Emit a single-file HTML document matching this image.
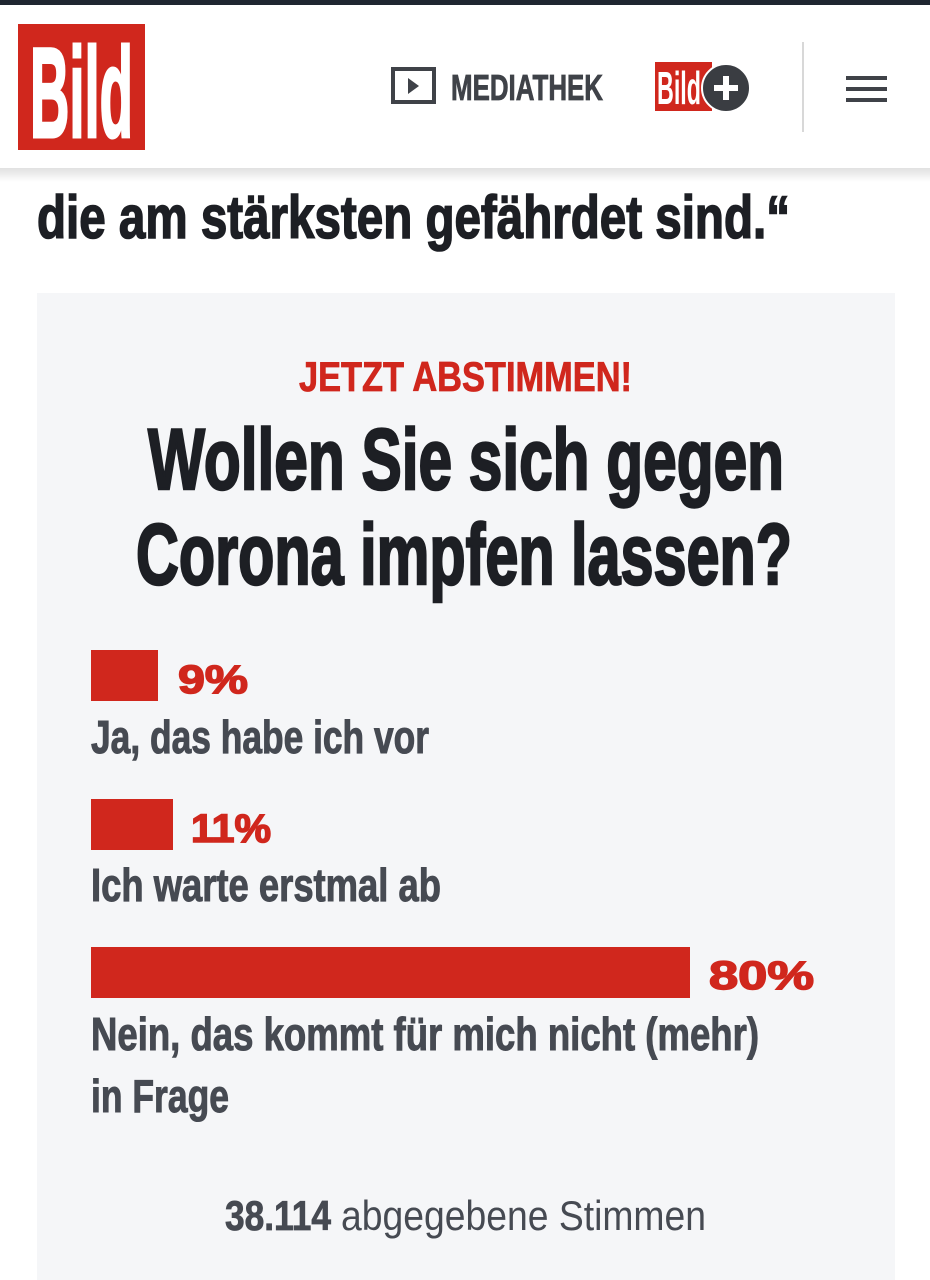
<!DOCTYPE html>
<html><head><meta charset="utf-8"><style>
html,body{margin:0;padding:0;width:930px;height:1280px;overflow:hidden;background:#fff}
svg{display:block}
text{font-family:"Liberation Sans Narrow","Liberation Sans",sans-serif;font-weight:bold}
</style></head><body>
<svg width="930" height="1280" viewBox="0 0 930 1280" xmlns="http://www.w3.org/2000/svg">
<defs>
<linearGradient id="sh" x1="0" y1="0" x2="0" y2="1"><stop offset="0" stop-color="#000" stop-opacity="0.12"/><stop offset="1" stop-color="#000" stop-opacity="0"/></linearGradient>
</defs>
<rect width="930" height="1280" fill="#fff"/>
<rect width="930" height="5" fill="#1f2630"/>
<rect x="0" y="168" width="930" height="14" fill="url(#sh)"/>
<rect x="18" y="24" width="127" height="126" fill="#d0271d"/>
<text x="30" y="137" font-size="128" fill="#fff" stroke="#fff" stroke-width="3" textLength="103" lengthAdjust="spacingAndGlyphs">Bild</text>
<rect x="393" y="69" width="41" height="33" fill="none" stroke="#3f4248" stroke-width="4"/>
<polygon points="408,78 408,94 419,86" fill="#3f4248"/>
<text x="451" y="100" font-size="36" fill="#3f4248" stroke="#3f4248" stroke-width="0.8" textLength="152" lengthAdjust="spacingAndGlyphs">MEDIATHEK</text>
<rect x="655" y="62" width="57" height="49" fill="#d0271d"/>
<text x="657" y="104" font-size="46" fill="#fff" textLength="44" lengthAdjust="spacingAndGlyphs">Bild</text>
<circle cx="726" cy="88" r="24" fill="#3a3d42" stroke="#fff" stroke-width="2"/>
<rect x="714" y="85" width="24" height="6" fill="#fff"/>
<rect x="723" y="76" width="6" height="24" fill="#fff"/>
<rect x="802" y="42" width="2" height="90" fill="#d8d8d8"/>
<rect x="846" y="76" width="41" height="4" fill="#3f4248"/>
<rect x="846" y="87" width="41" height="4" fill="#3f4248"/>
<rect x="846" y="98" width="41" height="4" fill="#3f4248"/>
<text x="37" y="238" font-size="60" fill="#1d1f24" stroke="#1d1f24" stroke-width="1.6" textLength="753" lengthAdjust="spacingAndGlyphs">die am stärksten gefährdet sind.“</text>
<rect x="37" y="293" width="858" height="987" fill="#f5f6f8"/>
<text x="299" y="391" font-size="42" fill="#d0271d" stroke="#d0271d" stroke-width="0.8" textLength="333" lengthAdjust="spacingAndGlyphs">JETZT ABSTIMMEN!</text>
<text x="148" y="489" font-size="86" fill="#1d1f24" stroke="#1d1f24" stroke-width="2.5" textLength="636" lengthAdjust="spacingAndGlyphs">Wollen Sie sich gegen</text>
<text x="136" y="584" font-size="86" fill="#1d1f24" stroke="#1d1f24" stroke-width="2.5" textLength="656" lengthAdjust="spacingAndGlyphs">Corona impfen lassen?</text>
<rect x="91" y="650" width="67" height="51" fill="#d0271d"/>
<text x="178" y="693" font-size="40" fill="#d0271d" stroke="#d0271d" stroke-width="1.5" textLength="70" lengthAdjust="spacingAndGlyphs" style="font-family:'Liberation Sans',sans-serif">9%</text>
<text x="91" y="753" font-size="46" fill="#464a52" stroke="#464a52" stroke-width="1" textLength="338" lengthAdjust="spacingAndGlyphs">Ja, das habe ich vor</text>
<rect x="91" y="799" width="82" height="51" fill="#d0271d"/>
<text x="191" y="842" font-size="40" fill="#d0271d" stroke="#d0271d" stroke-width="1.5" textLength="80" lengthAdjust="spacingAndGlyphs" style="font-family:'Liberation Sans',sans-serif">11%</text>
<text x="91" y="901" font-size="46" fill="#464a52" stroke="#464a52" stroke-width="1" textLength="350" lengthAdjust="spacingAndGlyphs">Ich warte erstmal ab</text>
<rect x="91" y="947" width="599" height="51" fill="#d0271d"/>
<text x="709" y="989" font-size="40" fill="#d0271d" stroke="#d0271d" stroke-width="1.5" textLength="105" lengthAdjust="spacingAndGlyphs" style="font-family:'Liberation Sans',sans-serif">80%</text>
<text x="91" y="1050" font-size="46" fill="#464a52" stroke="#464a52" stroke-width="1" textLength="668" lengthAdjust="spacingAndGlyphs">Nein, das kommt für mich nicht (mehr)</text>
<text x="91" y="1112" font-size="46" fill="#464a52" stroke="#464a52" stroke-width="1" textLength="138" lengthAdjust="spacingAndGlyphs">in Frage</text>
<text x="225" y="1230" font-size="42" fill="#464a52" stroke="#464a52" stroke-width="0.8" textLength="106" lengthAdjust="spacingAndGlyphs">38.114</text>
<text x="341" y="1230" font-size="42" fill="#464a52" style="font-weight:normal" textLength="365" lengthAdjust="spacingAndGlyphs">abgegebene Stimmen</text>
</svg>
</body></html>
